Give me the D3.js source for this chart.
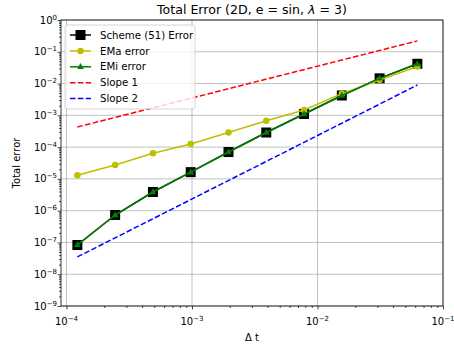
<!DOCTYPE html>
<html>
<head>
<meta charset="utf-8">
<script src="https://cdn.jsdelivr.net/npm/d3@7"></script>
<style>
  body { margin: 0; background: #fff; }
  text { font-family: "DejaVu Sans", sans-serif; }
</style>
</head>
<body>
<script>
// values
const dt = [1.220703125e-4, 2.44140625e-4, 4.8828125e-4, 9.765625e-4, 1.953125e-3,
            3.90625e-3, 7.8125e-3, 1.5625e-2, 3.125e-2, 6.25e-2];
const schemeErr = [8.3e-8, 7.3e-7, 3.87e-6, 1.63e-5, 7.0e-5, 2.88e-4, 1.10e-3, 4.21e-3, 1.46e-2, 4.19e-2];
const emaErr = [1.30e-5, 2.74e-5, 6.39e-5, 1.25e-4, 2.88e-4, 6.78e-4, 1.47e-3, 4.80e-3, 1.29e-2, 3.44e-2];
const emiErr = [8.4e-8, 7.3e-7, 3.87e-6, 1.63e-5, 7.0e-5, 2.88e-4, 1.10e-3, 4.21e-3, 1.46e-2, 4.15e-2];
const slopeX = [1.220703125e-4, 6.25e-2];
const slope1 = [4.3e-4, 0.22];
const slope2 = [3.5e-8, 9.0e-3];
const xMajor = [1e-4, 1e-3, 1e-2, 1e-1];
const yMajor = [1e0, 1e-1, 1e-2, 1e-3, 1e-4, 1e-5, 1e-6, 1e-7, 1e-8, 1e-9];

const W = 454, H = 349;
const pL = 61, pR = 443, pT = 20, pB = 306;

const svg = d3.select("body").append("svg")
  .attr("width", W).attr("height", H);

const x = d3.scaleLog().domain([9.04e-5, 1e-1]).range([pL, pR]);
const y = d3.scaleLog().domain([1e-9, 1e0]).range([pB, pT]);

function minors(lo, hi) {
  let out = [];
  for (let e = lo; e < hi; e++)
    for (let m = 2; m <= 9; m++) out.push(m * Math.pow(10, e));
  return out;
}
const xMinor = minors(-5, -1).filter(v => v >= 9.04e-5 && v <= 0.1);
const yMinor = minors(-9, 0);

// grid
svg.append("g").selectAll("line").data(xMajor).join("line")
  .attr("x1", d => x(d)).attr("x2", d => x(d))
  .attr("y1", pT).attr("y2", pB)
  .attr("stroke", "#b0b0b0").attr("stroke-width", 0.8);
svg.append("g").selectAll("line").data(yMajor).join("line")
  .attr("x1", pL).attr("x2", pR)
  .attr("y1", d => y(d)).attr("y2", d => y(d))
  .attr("stroke", "#b0b0b0").attr("stroke-width", 0.8);

// axes ticks
const gx = svg.append("g").attr("transform", `translate(0,${pB})`);
gx.call(d3.axisBottom(x).tickValues(xMajor).tickSize(3.5).tickFormat(""));
const gxm = svg.append("g").attr("transform", `translate(0,${pB})`);
gxm.call(d3.axisBottom(x).tickValues(xMinor).tickSize(2).tickFormat(""));
const gy = svg.append("g").attr("transform", `translate(${pL},0)`);
gy.call(d3.axisLeft(y).tickValues(yMajor).tickSize(3.5).tickFormat(""));
const gym = svg.append("g").attr("transform", `translate(${pL},0)`);
gym.call(d3.axisLeft(y).tickValues(yMinor).tickSize(2).tickFormat(""));
[gx, gxm, gy, gym].forEach(g => {
  g.select(".domain").remove();
  g.selectAll("line").attr("stroke", "#000").attr("stroke-width", 0.7);
});

// tick labels
function expLabel(sel, v) {
  const e = Math.round(Math.log10(v));
  sel.append("tspan").text("10");
  sel.append("tspan").attr("dy", -4).attr("font-size", 7)
    .text(e < 0 ? "\u2212" + (-e) : "" + e);
}
xMajor.forEach(v => {
  const t = svg.append("text").attr("x", x(v)).attr("y", 325)
    .attr("text-anchor", "middle").attr("font-size", 10);
  expLabel(t, v);
});
yMajor.forEach(v => {
  const t = svg.append("text").attr("x", 57).attr("y", y(v) + 3.5)
    .attr("text-anchor", "end").attr("font-size", 10);
  expLabel(t, v);
});

// frame
svg.append("rect").attr("x", pL).attr("y", pT)
  .attr("width", pR - pL).attr("height", pB - pT)
  .attr("fill", "none").attr("stroke", "#000").attr("stroke-width", 0.8);

// clip
svg.append("clipPath").attr("id", "clip").append("rect")
  .attr("x", pL).attr("y", pT).attr("width", pR - pL).attr("height", pB - pT);
const plot = svg.append("g").attr("clip-path", "url(#clip)");

const line = d3.line().x(d => x(d[0])).y(d => y(d[1]));
const zip = (a, b) => a.map((v, i) => [v, b[i]]);

const series = [
  { name: "Scheme (51) Error", xs: dt, ys: schemeErr, color: "#000000", marker: "square", size: 10, dash: null },
  { name: "EMa error", xs: dt, ys: emaErr, color: "#bfbf00", marker: "circle", size: 6.5, dash: null },
  { name: "EMi error", xs: dt, ys: emiErr, color: "#008000", marker: "triangle", size: 6.5, dash: null },
  { name: "Slope 1", xs: slopeX, ys: slope1, color: "#ff0000", marker: null, dash: "5.5,2.4" },
  { name: "Slope 2", xs: slopeX, ys: slope2, color: "#0000ff", marker: null, dash: "5.5,2.4" }
];

function drawMarker(g, kind, cx, cy, s, color) {
  if (kind === "square") {
    g.append("rect").attr("x", cx - s / 2).attr("y", cy - s / 2)
      .attr("width", s).attr("height", s).attr("fill", color);
  } else if (kind === "circle") {
    g.append("circle").attr("cx", cx).attr("cy", cy).attr("r", s / 2).attr("fill", color);
  } else if (kind === "triangle") {
    const r = s / 2 * 1.15;
    g.append("path")
      .attr("d", `M${cx},${cy - r}L${cx + r * 0.9},${cy + r * 0.6}L${cx - r * 0.9},${cy + r * 0.6}Z`)
      .attr("fill", color);
  }
}

series.forEach(s => {
  plot.append("path").datum(zip(s.xs, s.ys))
    .attr("d", line).attr("fill", "none")
    .attr("stroke", s.color).attr("stroke-width", 1.5)
    .attr("stroke-dasharray", s.dash);
  if (s.marker) {
    const g = plot.append("g");
    s.xs.forEach((v, i) => drawMarker(g, s.marker, x(v), y(s.ys[i]), s.size, s.color));
  }
});

// legend
const lg = svg.append("g");
lg.append("rect").attr("x", 65).attr("y", 25).attr("width", 130).attr("height", 84)
  .attr("rx", 2).attr("fill", "#fff").attr("fill-opacity", 0.8)
  .attr("stroke", "#cccccc").attr("stroke-width", 0.8);
series.forEach((s, i) => {
  const cy = 35 + i * 15.9;
  lg.append("line").attr("x1", 70).attr("x2", 91).attr("y1", cy).attr("y2", cy)
    .attr("stroke", s.color).attr("stroke-width", 1.5).attr("stroke-dasharray", s.dash);
  if (s.marker) drawMarker(lg, s.marker, 80.5, cy, s.size, s.color);
  lg.append("text").attr("x", 100).attr("y", cy + 3.6).attr("font-size", 10.2).text(s.name);
});

// title & labels
const title = svg.append("text").attr("x", 252).attr("y", 14)
  .attr("text-anchor", "middle").attr("font-size", 12.6);
title.append("tspan").text("Total Error (2D, e = sin, ");
title.append("tspan").attr("font-style", "italic").text("\u03bb");
title.append("tspan").text(" = 3)");

svg.append("text").attr("transform", `translate(20,${(pT + pB) / 2}) rotate(-90)`)
  .attr("text-anchor", "middle").attr("font-size", 10).text("Total error");
svg.append("text").attr("x", 252).attr("y", 341)
  .attr("text-anchor", "middle").attr("font-size", 10).text("\u0394 t");
</script>
</body>
</html>
